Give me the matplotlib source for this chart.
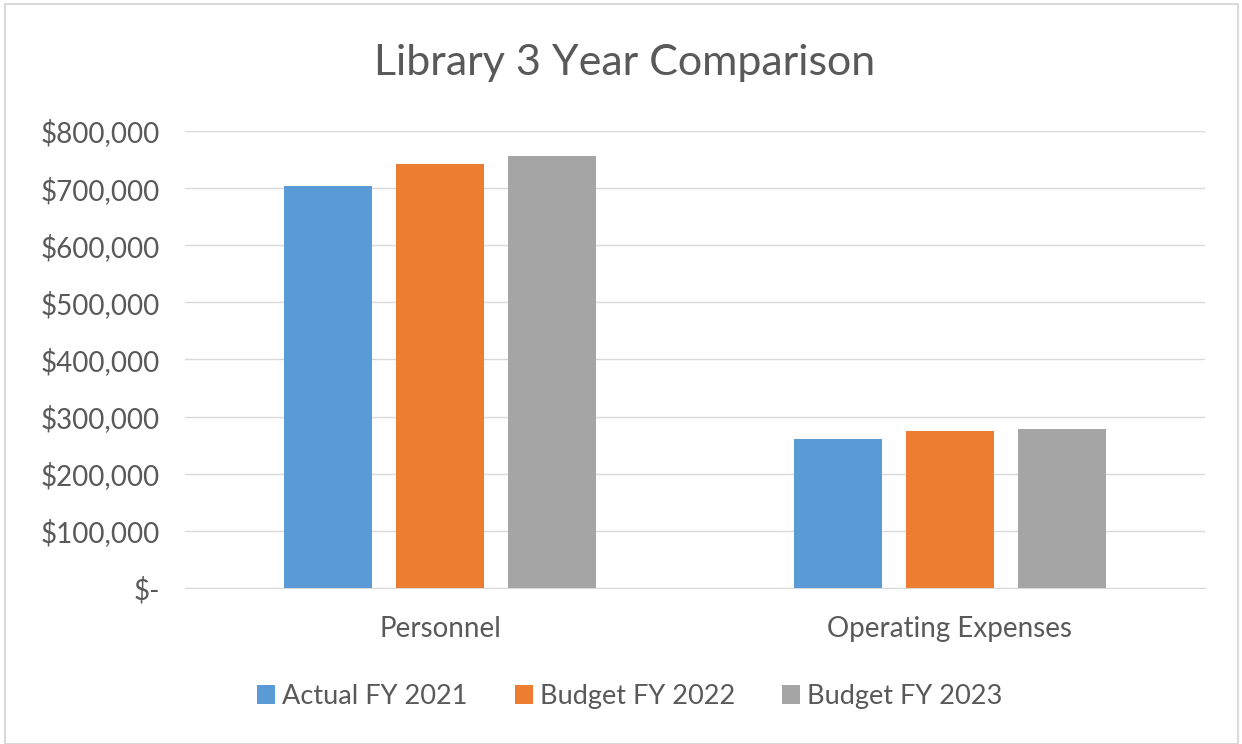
import numpy as np
import matplotlib.pyplot as plt
from matplotlib.ticker import FuncFormatter
from matplotlib.patches import Rectangle

categories = ['Personnel', 'Operating Expenses']
series_names = ['Actual FY 2021', 'Budget FY 2022', 'Budget FY 2023']
actual_2021 = [704000, 261000]
budget_2022 = [742000, 275000]
budget_2023 = [756000, 278000]
colors = ['#5B9BD5', '#ED7D31', '#A5A5A5']

plt.rcParams['font.family'] = ['Lato', 'DejaVu Sans']
text_color = '#595959'

fig = plt.figure(figsize=(12.42, 7.44), dpi=100)
ax = fig.add_axes([0.149, 0.2097, 0.821, 0.6143])

# light frame around the chart area
fig.patches.append(Rectangle((0.004, 0.0), 0.993, 0.994, transform=fig.transFigure,
                             fill=False, edgecolor='#D9D9D9', linewidth=1.5))

x = np.arange(len(categories))
width = 0.173
step = 0.22
for i, (vals, name) in enumerate(zip([actual_2021, budget_2022, budget_2023], series_names)):
    ax.bar(x + (i - 1) * step, vals, width, color=colors[i], label=name, zorder=3)

ax.set_xlim(-0.5, 1.5)
ax.set_ylim(0, 800000)
ax.set_yticks(np.arange(0, 800001, 100000))


def money(v, pos):
    if v == 0:
        return '$-'
    return '${:,.0f}'.format(v)


ax.yaxis.set_major_formatter(FuncFormatter(money))
ax.grid(axis='y', color='#D9D9D9', linewidth=1, zorder=0)
for s in ['top', 'right', 'left']:
    ax.spines[s].set_visible(False)
ax.spines['bottom'].set_color('#D9D9D9')
ax.tick_params(axis='both', length=0, labelsize=20, labelcolor=text_color)
ax.tick_params(axis='y', pad=18)
ax.tick_params(axis='x', pad=20)
ax.set_xticks(x)
ax.set_xticklabels(categories)

fig.text(0.503, 0.915, 'Library 3 Year Comparison', ha='center', va='center',
         fontsize=31, color=text_color)

fig.legend(loc='center', bbox_to_anchor=(0.507, 0.064), ncol=3, frameon=False,
           fontsize=19.5, labelcolor=text_color, handlelength=0.67, handleheight=0.67,
           handletextpad=0.25, columnspacing=1.75)

fig.savefig('out.png', dpi=100, facecolor='white')
